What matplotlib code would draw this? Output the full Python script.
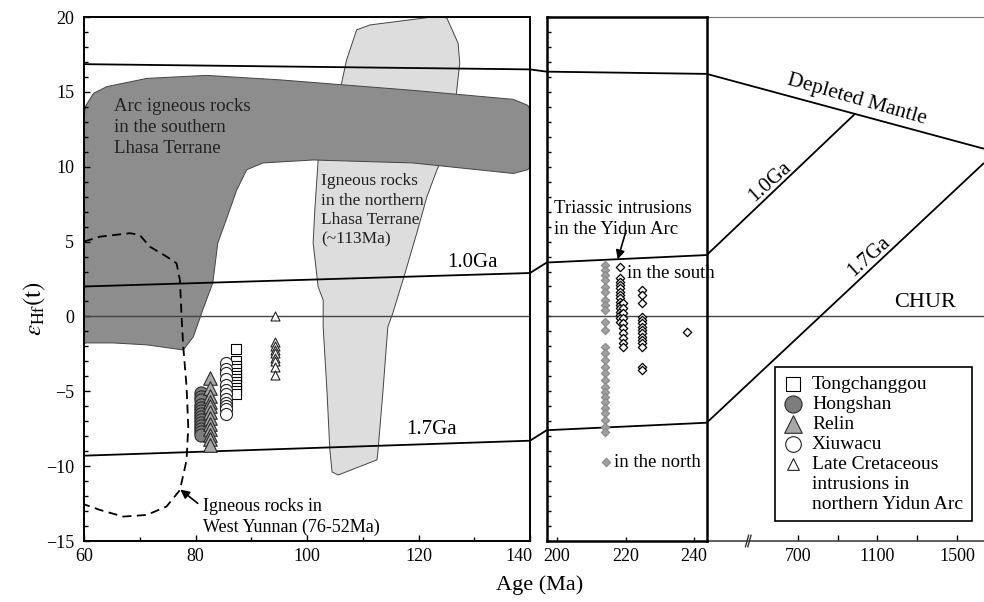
import matplotlib.pyplot as plt
from matplotlib.patches import Polygon, ConnectionPatch
import matplotlib.transforms as mtransforms
import numpy as np

plt.rcParams['font.family'] = ['Liberation Serif', 'DejaVu Serif']
plt.rcParams['mathtext.fontset'] = 'stix'

# evolution lines (age, eHf) at the panel edges
dm_left = [(60, 16.85), (140, 16.5)]
dm_mid = [(197, 16.35), (243.7, 16.2)]
dm_right = [(243.7, 16.2), (1634, 11.2)]
ga10_left = [(60, 2.0), (140, 2.9)]
ga10_mid = [(197, 3.6), (243.7, 4.1)]
ga10_right = [(243.7, 4.1), (987, 13.53)]
ga17_left = [(60, -9.3), (140, -8.3)]
ga17_mid = [(197, -7.6), (243.7, -7.1)]
ga17_right = [(243.7, -7.1), (1634, 10.25)]

# fields
south_lhasa_age = [60, 60.2, 61.7, 64.1, 71.3, 82.0, 95.2, 119.0, 137.0, 139.6, 140, 140,
                   139.6, 137.0, 119.0, 101.1, 92.1, 89.2, 87.4, 85.7, 84.0, 83.1, 81.3,
                   79.6, 77.8, 71.3, 65.2, 60.5, 60]
south_lhasa_ehf = [13.0, 14.0, 14.9, 15.35, 15.9, 16.1, 15.8, 15.1, 14.5, 14.1, 13.8, 10.0,
                   9.8, 9.55, 10.25, 10.45, 10.25, 9.8, 8.45, 6.65, 4.9, 2.24, 0.43,
                   -1.37, -2.24, -1.9, -1.77, -1.77, -1.8]
north_lhasa_age = [108.9, 111.3, 123.9, 125.1, 127.1, 127.4, 126.8, 124.8, 123.3, 121.5,
                   119.7, 117.6, 115.4, 114.5, 113.6, 112.7, 112.55, 105.6, 104.5, 104.1,
                   103.6, 102.9, 102.9, 102.0, 101.1, 101.4, 102.0, 104.0, 106.2, 107.1]
north_lhasa_ehf = [19.14, 19.47, 20.07, 19.92, 18.25, 16.93, 14.9, 11.1, 9.78, 7.98,
                   5.58, 2.91, 0.23, -0.7, -5.11, -9.12, -9.58, -10.59, -10.39, -8.92,
                   -5.11, -0.7, 1.1, 1.97, 4.91, 7.11, 10.45, 13.0, 15.58, 17.13]
yunnan_age = [60.0, 62.9, 68.25, 70.0, 71.8, 74.8, 76.6, 77.2, 77.5, 77.8, 78.4, 78.7,
              78.4, 77.2, 74.8, 71.25, 67.05, 62.9, 60.0]
yunnan_ehf = [5.0, 5.33, 5.56, 5.44, 4.66, 4.0, 3.55, 2.44, 0.0, -2.0, -4.7, -7.4,
              -9.6, -11.6, -12.7, -13.26, -13.37, -12.93, -12.55]

# samples
tongchanggou_age = 87.3
tongchanggou_ehf = [-2.2, -3.0, -3.3, -3.5, -3.8, -4.0, -4.2, -4.4, -4.6, -4.8, -5.0, -5.2]
hongshan_age = 81.0
hongshan_ehf = [-5.1, -5.4, -5.6, -5.9, -6.1, -6.3, -6.5, -6.7, -6.9, -7.1, -7.3, -7.5,
                -7.7, -7.9]
relin_age = 82.6
relin_ehf = [-4.1, -4.8, -5.3, -5.7, -6.0, -6.4, -6.8, -7.2, -7.5, -7.9, -8.2, -8.6]
xiuwacu_age = 85.5
xiuwacu_ehf = [-3.1, -3.5, -3.8, -4.2, -4.6, -4.9, -5.2, -5.5, -5.8, -6.0, -6.2, -6.5]
late_k_age = 94.3
late_k_ehf = [0.0, -1.7, -2.0, -2.25, -2.45, -2.8, -3.0, -3.35, -3.9]

yidun_north_age = 214.0
yidun_north_ehf = [3.44, 3.11, 2.77, 2.44, 1.99, 1.66, 1.10, 0.77, 0.43, -0.35, -0.90,
                   -2.02, -2.46, -2.91, -3.36, -3.80, -4.24, -4.69, -5.02, -5.36, -5.69,
                   -6.13, -6.47, -6.91, -7.36, -7.69]
yidun_south_age = [218.4, 219.2, 224.8, 237.9]
yidun_south_ehf = [
    [3.33, 2.55, 2.32, 2.10, 1.88, 1.66, 1.44, 1.22, 0.99, 0.77, 0.55, 0.32, 0.10, -0.12, -0.35],
    [0.88, 0.55, 0.21, -0.12, -0.45, -0.79, -1.12, -1.46, -1.79, -2.02],
    [1.77, 1.44, 0.88, -0.01, -0.23, -0.45, -0.68, -0.90, -1.12, -1.35, -1.57, -1.79,
     -2.02, -3.35, -3.55],
    [-1.04],
]

W, H = 984, 602
fig = plt.figure(figsize=(W / 100, H / 100), dpi=100)
bottom, height = 1 - 541 / H, 524 / H
ax1 = fig.add_axes([84 / W, bottom, 446 / W, height])
ax3 = fig.add_axes([706.7 / W, bottom, 277.3 / W, height])
ax2 = fig.add_axes([546.7 / W, bottom, 160 / W, height])
ax3.patch.set_alpha(0)
ax2.patch.set_alpha(0)

for ax in (ax1, ax2, ax3):
    ax.set_ylim(-15, 20)
    ax.axhline(0, color='#444444', lw=1.0, zorder=2)

ax1.set_xlim(60, 140)
ax2.set_xlim(197, 243.7)
ax3.set_xlim(243.7, 1634)

# fields
ax1.add_patch(Polygon(np.column_stack([north_lhasa_age, north_lhasa_ehf]), closed=True,
                      fc='#dddddd', ec='#444444', lw=0.7, zorder=1))
ax1.add_patch(Polygon(np.column_stack([south_lhasa_age, south_lhasa_ehf]), closed=True,
                      fc='#8d8d8d', ec='#444444', lw=0.7, zorder=1.1))
ax1.plot(yunnan_age, yunnan_ehf, color='black', lw=1.3, dashes=(5, 3), zorder=2)

# evolution lines
for ax, segs in ((ax1, (dm_left, ga10_left, ga17_left)),
                 (ax2, (dm_mid, ga10_mid, ga17_mid)),
                 (ax3, (dm_right, ga10_right, ga17_right))):
    for seg in segs:
        xs, ys = zip(*seg)
        ax.plot(xs, ys, color='black', lw=1.3, zorder=2, solid_capstyle='butt')

for a, b in ((dm_left, dm_mid), (ga10_left, ga10_mid), (ga17_left, ga17_mid)):
    con = ConnectionPatch(xyA=a[-1], coordsA=ax1.transData, xyB=b[0], coordsB=ax2.transData,
                          color='black', lw=1.3)
    fig.add_artist(con)

# samples, left panel
edge = 0.8
ax1.scatter(np.full(len(hongshan_ehf), hongshan_age), hongshan_ehf, s=90, marker='o',
            fc='#7d7d7d', ec='#2a2a2a', lw=edge, zorder=3, label='Hongshan')
ax1.scatter(np.full(len(relin_ehf), relin_age), relin_ehf, s=95, marker='^',
            fc='#a8a8a8', ec='#2a2a2a', lw=edge, zorder=3, label='Relin')
ax1.scatter(np.full(len(tongchanggou_ehf), tongchanggou_age), tongchanggou_ehf, s=58,
            marker='s', fc='white', ec='black', lw=edge, zorder=3, label='Tongchanggou')
ax1.scatter(np.full(len(xiuwacu_ehf), xiuwacu_age), xiuwacu_ehf, s=75, marker='o',
            fc='white', ec='#222222', lw=edge, zorder=3, label='Xiuwacu')
ax1.scatter(np.full(len(late_k_ehf), late_k_age), late_k_ehf, s=42, marker='^',
            fc='white', ec='#222222', lw=edge, zorder=3, label='Late Cretaceous')

# samples, middle panel
ax2.scatter(np.full(len(yidun_north_ehf), yidun_north_age), yidun_north_ehf, s=18,
            marker='D', fc='#a0a0a0', ec='#8a8a8a', lw=0.8, zorder=3)
for age, vals in zip(yidun_south_age, yidun_south_ehf):
    ax2.scatter(np.full(len(vals), age), vals, s=18, marker='D', fc='white',
                ec='black', lw=0.9, zorder=3)
ax2.scatter([214.3], [-9.7], s=18, marker='D', fc='#a0a0a0', ec='#8a8a8a', lw=0.8,
            zorder=3)

# text, left panel
fs = 13
ax1.text(65.3, 14.6, 'Arc igneous rocks\nin the southern\nLhasa Terrane', fontsize=13.5,
         ha='left', va='top', linespacing=1.32, color='#222222', zorder=4)
ax1.text(102.5, 9.55, 'Igneous rocks\nin the northern\nLhasa Terrane\n(~113Ma)',
         fontsize=12.5, ha='left', va='top', linespacing=1.28, color='#222222', zorder=4)
ax1.text(129.7, 3.0, '1.0Ga', fontsize=15, ha='center', va='bottom', zorder=4)
ax1.text(122.4, -8.2, '1.7Ga', fontsize=15, ha='center', va='bottom', zorder=4)
ax1.text(81.3, -13.4, 'Igneous rocks in\nWest Yunnan (76-52Ma)', fontsize=13,
         ha='left', va='center', linespacing=1.22, zorder=4)
ax1.annotate('', xy=(76.9, -11.45), xytext=(80.8, -12.6),
             arrowprops=dict(arrowstyle='-|>', color='black', lw=1.2, mutation_scale=13),
             zorder=4)

# text, middle panel
ax2.text(199.1, 7.75, 'Triassic intrusions\nin the Yidun Arc', fontsize=13.5, ha='left',
         va='top', linespacing=1.25, zorder=4)
ax2.annotate('', xy=(217.5, 3.64), xytext=(220.4, 5.9),
             arrowprops=dict(arrowstyle='-|>', color='black', lw=1.2, mutation_scale=13),
             zorder=4)
ax2.text(220.5, 2.9, 'in the south', fontsize=13.5, ha='left', va='center', zorder=4)
ax2.text(216.6, -9.75, 'in the north', fontsize=13.5, ha='left', va='center', zorder=4)

# text, right panel
ax3.text(996, 14.46, 'Depleted Mantle', fontsize=15.5, ha='center', va='center',
         rotation=-16, rotation_mode='anchor', zorder=4)
ax3.text(561, 9.0, '1.0Ga', fontsize=15, ha='center', va='center', rotation=42,
         rotation_mode='anchor', zorder=4)
ax3.text(1057, 4.0, '1.7Ga', fontsize=15, ha='center', va='center', rotation=42,
         rotation_mode='anchor', zorder=4)
ax3.text(1338, 0.3, 'CHUR', fontsize=16, ha='center', va='bottom', zorder=4)

# axes styling
for sp in ax1.spines.values():
    sp.set_linewidth(1.4)
for sp in ax2.spines.values():
    sp.set_linewidth(1.8)
ax1.set_yticks(np.arange(-15, 21, 5))
ax1.set_yticks(np.arange(-15, 21, 1), minor=True)
ax1.set_xticks(np.arange(60, 141, 20))
ax1.set_xticks(np.arange(60, 141, 10), minor=True)
ax1.tick_params(which='both', direction='in', labelsize=fs, top=False, right=False)
ax1.tick_params(which='major', length=4, width=1.0, pad=7)
ax1.tick_params(which='minor', length=3, width=1.0)
ax1.tick_params(axis='x', which='major', pad=5)
# keep "140" clear of "200"
shift = mtransforms.ScaledTranslation(-11 / 100, 0, fig.dpi_scale_trans)
lab140 = ax1.get_xticklabels()[-1]
lab140.set_transform(lab140.get_transform() + shift)

ax2.set_yticks(np.arange(-15, 21, 1))
ax2.set_yticklabels([])
ax2.set_xticks([200, 220, 240])
ax2.tick_params(which='both', direction='in', labelsize=fs, length=3, width=1.0,
                top=False, right=False, pad=5)

ax3.set_yticks([])
ax3.set_xticks([700, 900, 1100, 1300, 1500])
ax3.set_xticklabels(['700', '', '1100', '', '1500'])
ax3.tick_params(axis='x', direction='in', labelsize=fs, length=4, width=1.0, pad=5)
ax3.spines['left'].set_visible(False)
ax3.spines['right'].set_visible(False)
ax3.spines['top'].set_color('#777777')
ax3.spines['top'].set_linewidth(0.8)
ax3.spines['bottom'].set_color('#444444')
ax3.spines['bottom'].set_linewidth(1.2)

# axis break mark
brk = mtransforms.blended_transform_factory(ax3.transData, ax3.transAxes)
for bx in (446, 458):
    ax3.plot([bx - 8, bx + 8], [-0.011, 0.011], color='#333333', lw=1.0,
             transform=brk, clip_on=False, zorder=5)

# legend
handles, labels = ax1.get_legend_handles_labels()
order = [labels.index(n) for n in ('Tongchanggou', 'Hongshan', 'Relin', 'Xiuwacu',
                                   'Late Cretaceous')]
blank = plt.Line2D([], [], linestyle='none')
leg = ax3.legend([handles[i] for i in order] + [blank, blank],
                 [labels[i] for i in order] + ['intrusions in', 'northern Yidun Arc'],
                 loc='upper left', bbox_to_anchor=(775 / W, 1 - 366.7 / H),
                 bbox_transform=fig.transFigure, frameon=True, fancybox=False,
                 edgecolor='black', framealpha=1, fontsize=14, handletextpad=0.45,
                 borderpad=0.45, labelspacing=0.12, handlelength=1.0, borderaxespad=0,
                 markerscale=1.3)
leg.get_frame().set_linewidth(1.2)
leg.set_zorder(6)

fig.text(540 / W, 1 - 585 / H, 'Age (Ma)', fontsize=16, ha='center', va='center')
fig.text(35 / W, 1 - 308 / H, r'$\varepsilon_{\mathrm{Hf}}\mathrm{(t)}$', fontsize=18,
         ha='center', va='center', rotation=90)

fig.savefig('out.png', dpi=100)
